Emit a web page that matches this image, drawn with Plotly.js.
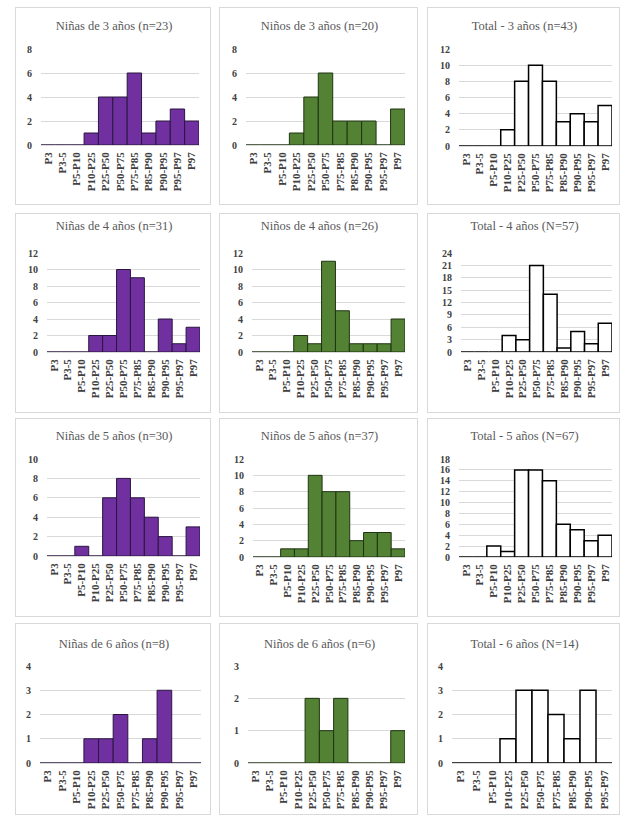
<!DOCTYPE html>
<html>
<head>
<meta charset="utf-8">
<script src="https://cdn.plot.ly/plotly-3.0.1.min.js"></script>
<style>
  html, body { margin: 0; padding: 0; background: #ffffff; }
  body { width: 625px; height: 818px; position: relative; overflow: hidden; }
  .panel { position: absolute; border: 1px solid #d9d9d9; box-sizing: border-box; background: #fff; }
</style>
</head>
<body>
<script>
// ---- Data ----
const categories = ['P3','P3-5','P5-P10','P10-P25','P25-P50','P50-P75','P75-P85','P85-P90','P90-P95','P95-P97','P97'];
const categoriesTotal6 = ['P3','P3-5','P5-P10','P10-P25','P25-P50','P50-P75','P75-P85','P85-P90','P90-P95','P95-P97'];

const ninas3 = [0,0,0,1,4,4,6,1,2,3,2];
const ninos3 = [0,0,0,1,4,6,2,2,2,0,3];
const total3 = [0,0,0,2,8,10,8,3,4,3,5];

const ninas4 = [0,0,0,2,2,10,9,0,4,1,3];
const ninos4 = [0,0,0,2,1,11,5,1,1,1,4];
const total4 = [0,0,0,4,3,21,14,1,5,2,7];

const ninas5 = [0,0,1,0,6,8,6,4,2,0,3];
const ninos5 = [0,0,1,1,10,8,8,2,3,3,1];
const total5 = [0,0,2,1,16,16,14,6,5,3,4];

const ninas6 = [0,0,0,1,1,2,0,1,3,0,0];
const ninos6 = [0,0,0,0,2,1,2,0,0,0,1];
const total6 = [0,0,0,1,3,3,2,1,3,0];

const titles = [
  'Niñas de 3 años (n=23)', 'Niños de 3 años (n=20)', 'Total - 3 años (n=43)',
  'Niñas de 4 años (n=31)', 'Niños de 4 años (n=26)', 'Total - 4 años (N=57)',
  'Niñas de 5 años (n=30)', 'Niños de 5 años (n=37)', 'Total - 5 años (N=67)',
  'Niñas de 6 años (n=8)',  'Niños de 6 años (n=6)',  'Total - 6 años (N=14)'
];

// ---- Styles ----
const STY = {
  ninas: { fill: '#7030a0', line: '#2a1640', lw: 1 },
  ninos: { fill: '#548235', line: '#1f3412', lw: 1 },
  total: { fill: '#ffffff', line: '#000000', lw: 1.5 }
};

const cols = [[15,211],[219,418],[427,620]];
const rows = [[7,205],[213,413],[418,617],[623,815]];
const titleY = [25, 225, 435, 643];

// plot areas in page px: [left, top(max gridline), right, bottom(zero)]
const panels = [
  { t: titles[0],  cats: categories, v: ninas3, s: 'ninas', ymax: 8,  dt: 2, r: 0, c: 0, p: [40, 48, 198, 144] },
  { t: titles[1],  cats: categories, v: ninos3, s: 'ninos', ymax: 8,  dt: 2, r: 0, c: 1, p: [245, 48, 404, 144] },
  { t: titles[2],  cats: categories, v: total3, s: 'total', ymax: 12, dt: 2, r: 0, c: 2, p: [458, 48, 611, 145] },
  { t: titles[3],  cats: categories, v: ninas4, s: 'ninas', ymax: 12, dt: 2, r: 1, c: 0, p: [46, 252, 199, 351] },
  { t: titles[4],  cats: categories, v: ninos4, s: 'ninos', ymax: 12, dt: 2, r: 1, c: 1, p: [251, 252, 404, 351] },
  { t: titles[5],  cats: categories, v: total4, s: 'total', ymax: 24, dt: 3, r: 1, c: 2, p: [460, 252, 611, 351] },
  { t: titles[6],  cats: categories, v: ninas5, s: 'ninas', ymax: 10, dt: 2, r: 2, c: 0, p: [46, 458, 199, 555] },
  { t: titles[7],  cats: categories, v: ninos5, s: 'ninos', ymax: 12, dt: 2, r: 2, c: 1, p: [252, 458, 404, 556] },
  { t: titles[8],  cats: categories, v: total5, s: 'total', ymax: 18, dt: 2, r: 2, c: 2, p: [458, 458, 611, 556] },
  { t: titles[9],  cats: categories, v: ninas6, s: 'ninas', ymax: 4,  dt: 1, r: 3, c: 0, p: [39, 665, 200, 762] },
  { t: titles[10], cats: categories, v: ninos6, s: 'ninos', ymax: 3,  dt: 1, r: 3, c: 1, p: [247, 665, 404, 762] },
  { t: titles[11], cats: categoriesTotal6, v: total6, s: 'total', ymax: 4, dt: 1, r: 3, c: 2, p: [451, 665, 611, 762] }
];

const FONT = "'Liberation Serif', 'Times New Roman', serif";

panels.forEach((pn, i) => {
  const x0 = cols[pn.c][0], x1 = cols[pn.c][1];
  const y0 = rows[pn.r][0], y1 = rows[pn.r][1];
  const w = x1 - x0, h = y1 - y0;
  const div = document.createElement('div');
  div.className = 'panel';
  div.id = 'chart' + i;
  div.style.left = x0 + 'px';
  div.style.top = y0 + 'px';
  div.style.width = w + 'px';
  div.style.height = h + 'px';
  document.body.appendChild(div);

  const st = STY[pn.s];
  const trace = {
    type: 'bar',
    x: pn.cats,
    y: pn.v,
    marker: { color: st.fill, line: { color: st.line, width: st.lw } },
    hoverinfo: 'x+y'
  };
  const layout = {
    width: w, height: h,
    margin: { l: pn.p[0] - x0, r: x1 - pn.p[2], t: pn.p[1] - y0, b: y1 - pn.p[3], pad: 0 },
    paper_bgcolor: 'rgba(0,0,0,0)',
    plot_bgcolor: 'rgba(0,0,0,0)',
    bargap: 0,
    showlegend: false,
    font: { family: FONT },
    title: {
      text: pn.t,
      font: { family: FONT, size: 12.5, color: '#595959' },
      xref: 'container', x: 0.5, xanchor: 'center',
      yref: 'container', y: 1 - (titleY[pn.r] - y0) / h, yanchor: 'middle'
    },
    xaxis: {
      type: 'category',
      tickangle: -90,
      tickfont: { family: FONT, size: 11, color: '#404040', weight: 'bold' },
      showgrid: false,
      showline: false,
      zeroline: false,
      ticks: '',
      ticklabelstandoff: 4,
      fixedrange: true
    },
    yaxis: {
      range: [0, pn.ymax],
      dtick: pn.dt,
      tick0: 0,
      tickfont: { family: FONT, size: 10, color: '#404040', weight: 'bold' },
      showgrid: true,
      gridcolor: '#d9d9d9',
      gridwidth: 1,
      zeroline: true,
      zerolinecolor: '#d9d9d9',
      showline: false,
      ticks: '',
      ticklabelstandoff: 8,
      fixedrange: true
    }
  };
  Plotly.newPlot(div, [trace], layout, { displayModeBar: false, staticPlot: true });
});
</script>
</body>
</html>
